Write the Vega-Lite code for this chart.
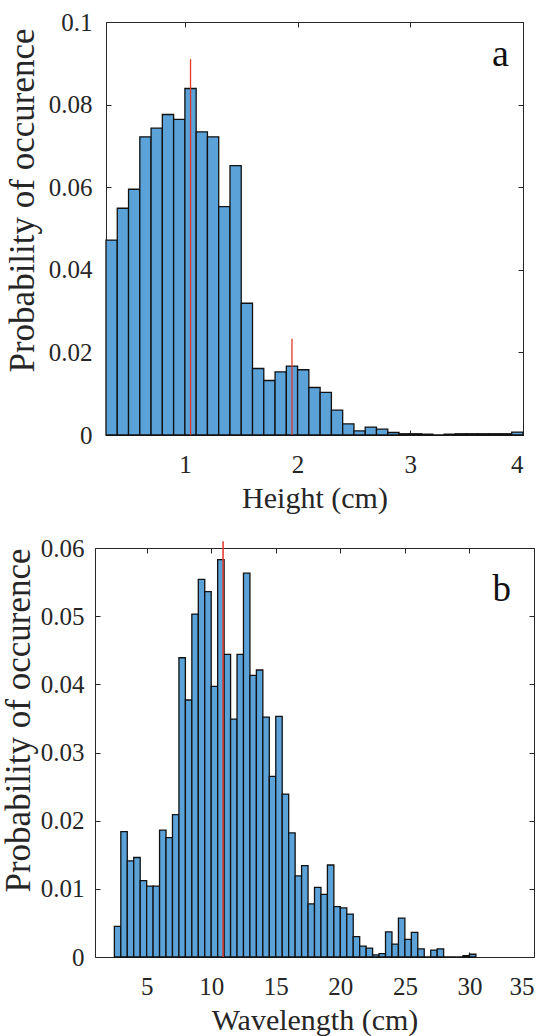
{
  "$schema": "https://vega.github.io/schema/vega-lite/v6.json",
  "background": "white",
  "padding": {"left": 0, "top": 9, "right": 5, "bottom": 0},
  "config": {
    "font": "Liberation Serif",
    "view": {"stroke": "#262626", "strokeWidth": 1},
    "axis": {
      "grid": false, "domain": false, "zindex": 1,
      "labelFont": "Liberation Serif", "titleFont": "Liberation Serif",
      "labelFontSize": 25, "titleFontSize": 30, "titleFontWeight": "normal",
      "labelColor": "#262626", "titleColor": "#262626", "tickColor": "#262626",
      "tickSize": -5, "tickWidth": 1
    },
    "axisY": {"titleFontSize": 35}
  },
  "bounds": "flush",
  "spacing": 113,
  "center": true,
  "vconcat": [
    {
      "width": 417, "height": 413,
      "resolve": {"axis": {"x": "independent", "y": "independent"}},
      "layer": [
        {
          "data": {"values": [
            {"x0":0.3,"x1":0.4,"p":0.0472},{"x0":0.4,"x1":0.5,"p":0.0549},{"x0":0.5,"x1":0.6,"p":0.0595},
            {"x0":0.6,"x1":0.7,"p":0.0722},{"x0":0.7,"x1":0.8,"p":0.0743},{"x0":0.8,"x1":0.9,"p":0.0776},
            {"x0":0.9,"x1":1.0,"p":0.0764},{"x0":1.0,"x1":1.1,"p":0.0839},{"x0":1.1,"x1":1.2,"p":0.0734},
            {"x0":1.2,"x1":1.3,"p":0.0722},{"x0":1.3,"x1":1.4,"p":0.0553},{"x0":1.4,"x1":1.5,"p":0.0652},
            {"x0":1.5,"x1":1.6,"p":0.0319},{"x0":1.6,"x1":1.7,"p":0.0161},{"x0":1.7,"x1":1.8,"p":0.0132},
            {"x0":1.8,"x1":1.9,"p":0.0153},{"x0":1.9,"x1":2.0,"p":0.0167},{"x0":2.0,"x1":2.1,"p":0.0158},
            {"x0":2.1,"x1":2.2,"p":0.0115},{"x0":2.2,"x1":2.3,"p":0.0103},{"x0":2.3,"x1":2.4,"p":0.0060},
            {"x0":2.4,"x1":2.5,"p":0.0027},{"x0":2.5,"x1":2.6,"p":0.0010},{"x0":2.6,"x1":2.7,"p":0.0019},
            {"x0":2.7,"x1":2.8,"p":0.0014},{"x0":2.8,"x1":2.9,"p":0.0006},{"x0":2.9,"x1":3.0,"p":0.0003},
            {"x0":3.0,"x1":3.1,"p":0.0003},{"x0":3.1,"x1":3.2,"p":0.0002},{"x0":3.2,"x1":3.3,"p":0.0},
            {"x0":3.3,"x1":3.4,"p":0.0002},{"x0":3.4,"x1":3.5,"p":0.0003},{"x0":3.5,"x1":3.6,"p":0.0003},
            {"x0":3.6,"x1":3.7,"p":0.0003},{"x0":3.7,"x1":3.8,"p":0.0003},{"x0":3.8,"x1":3.9,"p":0.0003},
            {"x0":3.9,"x1":4.0,"p":0.0007}
          ]},
          "mark": {"type": "bar", "fill": "#5AA2D8", "stroke": "#111111", "strokeWidth": 1.3},
          "encoding": {
            "x": {"field": "x0", "type": "quantitative",
                  "scale": {"domain": [0.3, 4], "nice": false, "zero": false},
                  "axis": {"values": [1, 2, 3, 4], "title": "Height (cm)", "labelPadding": 22, "titlePadding": 6}},
            "x2": {"field": "x1"},
            "y": {"field": "p", "type": "quantitative",
                  "scale": {"domain": [0, 0.1], "nice": false},
                  "axis": {"values": [0, 0.02, 0.04, 0.06, 0.08, 0.1], "format": ".2~f", "title": "Probability of occurence", "labelPadding": 19, "titlePadding": 8, "titleY": 178}},
            "y2": {"datum": 0}
          }
        },
        {
          "data": {"values": [{"x": 1.05, "top": 0.091}, {"x": 1.95, "top": 0.0233}]},
          "mark": {"type": "rule", "color": "#E2372B", "strokeWidth": 1.3, "clip": false},
          "encoding": {
            "x": {"field": "x", "type": "quantitative", "axis": null},
            "y": {"field": "top", "type": "quantitative", "axis": null},
            "y2": {"datum": 0}
          }
        },
        {
          "data": {"values": [{"x": 3.8, "y": 0.0893, "label": "a"}]},
          "mark": {"type": "text", "fontSize": 38, "font": "Liberation Serif", "color": "#111111", "align": "center", "baseline": "alphabetic"},
          "encoding": {
            "x": {"field": "x", "type": "quantitative", "axis": {"orient": "top", "values": [1, 2, 3, 4], "labels": false, "title": null}},
            "y": {"field": "y", "type": "quantitative", "axis": {"orient": "right", "values": [0, 0.02, 0.04, 0.06, 0.08, 0.1], "labels": false, "title": null}},
            "text": {"field": "label"}
          }
        }
      ]
    },
    {
      "width": 439, "height": 409,
      "resolve": {"axis": {"x": "independent", "y": "independent"}},
      "layer": [
        {
          "data": {"values": [
            {"x0":2.5,"x1":3.0,"p":0.0045},{"x0":3.0,"x1":3.5,"p":0.0184},{"x0":3.5,"x1":4.0,"p":0.0141},
            {"x0":4.0,"x1":4.5,"p":0.0146},{"x0":4.5,"x1":5.0,"p":0.0112},{"x0":5.0,"x1":5.5,"p":0.0104},
            {"x0":5.5,"x1":6.0,"p":0.0104},{"x0":6.0,"x1":6.5,"p":0.0186},{"x0":6.5,"x1":7.0,"p":0.0175},
            {"x0":7.0,"x1":7.5,"p":0.0209},{"x0":7.5,"x1":8.0,"p":0.0439},{"x0":8.0,"x1":8.5,"p":0.0377},
            {"x0":8.5,"x1":9.0,"p":0.0503},{"x0":9.0,"x1":9.5,"p":0.0554},{"x0":9.5,"x1":10.0,"p":0.0536},
            {"x0":10.0,"x1":10.5,"p":0.0397},{"x0":10.5,"x1":11.0,"p":0.0583},{"x0":11.0,"x1":11.5,"p":0.0444},
            {"x0":11.5,"x1":12.0,"p":0.0349},{"x0":12.0,"x1":12.5,"p":0.0444},{"x0":12.5,"x1":13.0,"p":0.0563},
            {"x0":13.0,"x1":13.5,"p":0.0413},{"x0":13.5,"x1":14.0,"p":0.0421},{"x0":14.0,"x1":14.5,"p":0.0352},
            {"x0":14.5,"x1":15.0,"p":0.0265},{"x0":15.0,"x1":15.5,"p":0.0353},{"x0":15.5,"x1":16.0,"p":0.0239},
            {"x0":16.0,"x1":16.5,"p":0.0182},{"x0":16.5,"x1":17.0,"p":0.0119},{"x0":17.0,"x1":17.5,"p":0.0134},
            {"x0":17.5,"x1":18.0,"p":0.0078},{"x0":18.0,"x1":18.5,"p":0.0102},{"x0":18.5,"x1":19.0,"p":0.0092},
            {"x0":19.0,"x1":19.5,"p":0.0135},{"x0":19.5,"x1":20.0,"p":0.0074},{"x0":20.0,"x1":20.5,"p":0.0072},
            {"x0":20.5,"x1":21.0,"p":0.0063},{"x0":21.0,"x1":21.5,"p":0.0030},{"x0":21.5,"x1":22.0,"p":0.0016},
            {"x0":22.0,"x1":22.5,"p":0.0013},{"x0":22.5,"x1":23.0,"p":0.0003},{"x0":23.0,"x1":23.5,"p":0.0005},
            {"x0":23.5,"x1":24.0,"p":0.0037},{"x0":24.0,"x1":24.5,"p":0.0019},{"x0":24.5,"x1":25.0,"p":0.0057},
            {"x0":25.0,"x1":25.5,"p":0.0026},{"x0":25.5,"x1":26.0,"p":0.0036},{"x0":26.0,"x1":26.5,"p":0.0012},
            {"x0":26.5,"x1":27.0,"p":0.0},{"x0":27.0,"x1":27.5,"p":0.0010},{"x0":27.5,"x1":28.0,"p":0.0012},
            {"x0":28.0,"x1":28.5,"p":0.0},{"x0":28.5,"x1":29.0,"p":0.0},{"x0":29.0,"x1":29.5,"p":0.0},
            {"x0":29.5,"x1":30.0,"p":0.0002},{"x0":30.0,"x1":30.5,"p":0.0004}
          ]},
          "mark": {"type": "bar", "fill": "#5AA2D8", "stroke": "#111111", "strokeWidth": 1.3},
          "encoding": {
            "x": {"field": "x0", "type": "quantitative",
                  "scale": {"domain": [1, 35], "nice": false, "zero": false},
                  "axis": {"values": [5, 10, 15, 20, 25, 30, 35], "title": "Wavelength (cm)", "labelPadding": 22, "titlePadding": 6}},
            "x2": {"field": "x1"},
            "y": {"field": "p", "type": "quantitative",
                  "scale": {"domain": [0, 0.06], "nice": false},
                  "axis": {"values": [0, 0.01, 0.02, 0.03, 0.04, 0.05, 0.06], "format": ".2~f", "title": "Probability of occurence", "labelPadding": 16, "titlePadding": 4, "titleY": 172}},
            "y2": {"datum": 0}
          }
        },
        {
          "data": {"values": [{"x": 10.92, "top": 0.061}]},
          "mark": {"type": "rule", "color": "#E2372B", "strokeWidth": 1.5, "clip": false},
          "encoding": {
            "x": {"field": "x", "type": "quantitative", "axis": null},
            "y": {"field": "top", "type": "quantitative", "axis": null},
            "y2": {"datum": 0}
          }
        },
        {
          "data": {"values": [{"x": 32.5, "y": 0.0522, "label": "b"}]},
          "mark": {"type": "text", "fontSize": 37, "font": "Liberation Serif", "color": "#111111", "align": "center", "baseline": "alphabetic"},
          "encoding": {
            "x": {"field": "x", "type": "quantitative", "axis": {"orient": "top", "values": [5, 10, 15, 20, 25, 30, 35], "labels": false, "title": null}},
            "y": {"field": "y", "type": "quantitative", "axis": {"orient": "right", "values": [0, 0.01, 0.02, 0.03, 0.04, 0.05, 0.06], "labels": false, "title": null}},
            "text": {"field": "label"}
          }
        }
      ]
    }
  ]
}
